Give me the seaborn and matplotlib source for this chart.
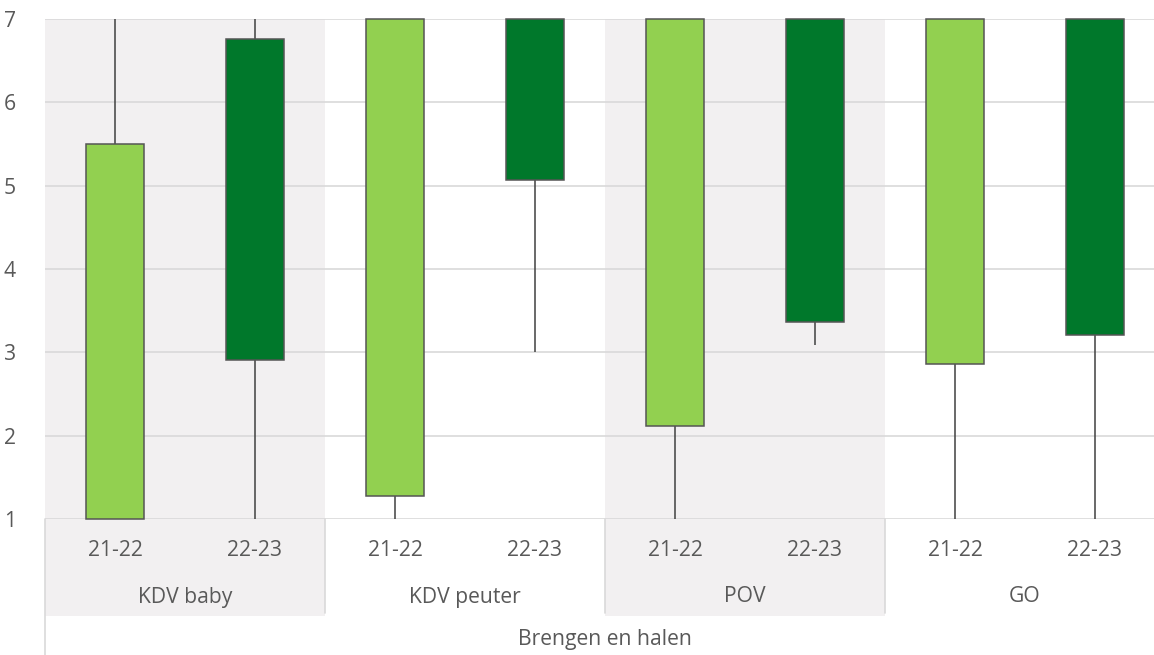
import matplotlib
matplotlib.use("Agg")
import matplotlib.pyplot as plt
import matplotlib.transforms as mtransforms
from matplotlib.patches import Rectangle
import numpy as np
import pandas as pd
import seaborn as sns

# Categories
groups = ["KDV baby", "KDV peuter", "POV", "GO"]
years = ["21-22", "22-23"]
axis_title = "Brengen en halen"

# Per category (group x year): whisker low, box bottom, box top, whisker high
whisker_low = [1.0, 1.0, 1.0, 3.0, 1.0, 3.09, 1.0, 1.0]
box_low = [1.0, 2.91, 1.28, 5.07, 2.12, 3.36, 2.86, 3.21]
box_high = [5.5, 6.76, 7.0, 7.0, 7.0, 7.0, 7.0, 7.0]
whisker_high = [7.0, 7.0, 7.0, 7.0, 7.0, 7.0, 7.0, 7.0]

yticks = [1, 2, 3, 4, 5, 6, 7]

light_green = "#92D050"
dark_green = "#00782B"
band_color = "#F2F0F1"
grid_color = "#D9D9D9"
text_color = "#595959"
edge_color = "#555555"
label_size = 15.2

sns.set_theme(style="white")
plt.rcParams["font.family"] = ["Open Sans", "DejaVu Sans"]

cats = [f"{g} {y}" for g in groups for y in years]
df = pd.DataFrame({
    "cat": cats,
    "height": np.array(box_high) - np.array(box_low),
})

W, H = 1154, 655
fig = plt.figure(figsize=(W / 100, H / 100), dpi=100)
fig.patch.set_facecolor("white")
ax = fig.add_axes([45 / W, (H - 519) / H, 1120 / W, 500 / H])
ax.set_facecolor("white")

# Shaded bands behind alternate groups, running down into the label area
label_bottom = -0.194
trans = mtransforms.blended_transform_factory(ax.transData, ax.transAxes)
for gi in range(len(groups)):
    if gi % 2 == 0:
        x0 = gi * 2 - 0.5
        ax.add_patch(Rectangle((x0, label_bottom), 2, 1 - label_bottom,
                               transform=trans, facecolor=band_color,
                               edgecolor="none", zorder=0.1, clip_on=False))

# Whiskers
xs = np.arange(len(cats))
ax.vlines(xs, whisker_low, whisker_high, colors="#404040", linewidth=1.1, zorder=1.5)

# Boxes as floating bars
sns.barplot(data=df, x="cat", y="height", order=cats, bottom=box_low,
            width=0.415, color=light_green, edgecolor=edge_color,
            linewidth=1.1, errorbar=None, ax=ax, zorder=2)
bars = ax.containers[-1]
for i, patch in enumerate(bars.patches):
    patch.set_facecolor(light_green if i % 2 == 0 else dark_green)
    patch.set_clip_on(False)

ax.set_xlim(-0.5, len(cats) - 0.5)
ax.set_ylim(1, 7)
ax.set_yticks(yticks)
ax.set_yticklabels([str(v) for v in yticks], color=text_color, fontsize=label_size)
ax.tick_params(axis="y", length=0, pad=21)
ax.set_xticks([])
ax.set_xlabel("")
ax.set_ylabel("")
ax.grid(axis="y", color=grid_color, linewidth=1.2, zorder=0.5)
ax.set_axisbelow(True)
for s in ax.spines.values():
    s.set_visible(False)

# Multi-level category labels
for i, c in enumerate(cats):
    ax.text(i, -0.062, years[i % 2], transform=trans, ha="center", va="center",
            fontsize=label_size, color=text_color)
for gi, g in enumerate(groups):
    ax.text(gi * 2 + 0.5, -0.156, g, transform=trans, ha="center", va="center",
            fontsize=label_size, color=text_color)
ax.text(0.5, -0.242, axis_title, transform=ax.transAxes, ha="center", va="center",
        fontsize=label_size, color=text_color)

# Separator lines in the label area
for gi in range(1, len(groups)):
    xb = gi * 2 - 0.5
    ax.plot([xb, xb], [0, label_bottom + 0.006], transform=trans, color=grid_color,
            linewidth=1.2, clip_on=False, zorder=0.3)
ax.plot([-0.5, -0.5], [0, -0.3], transform=trans, color=grid_color,
        linewidth=1.2, clip_on=False, zorder=0.3)

fig.savefig("out.png", dpi=100)
